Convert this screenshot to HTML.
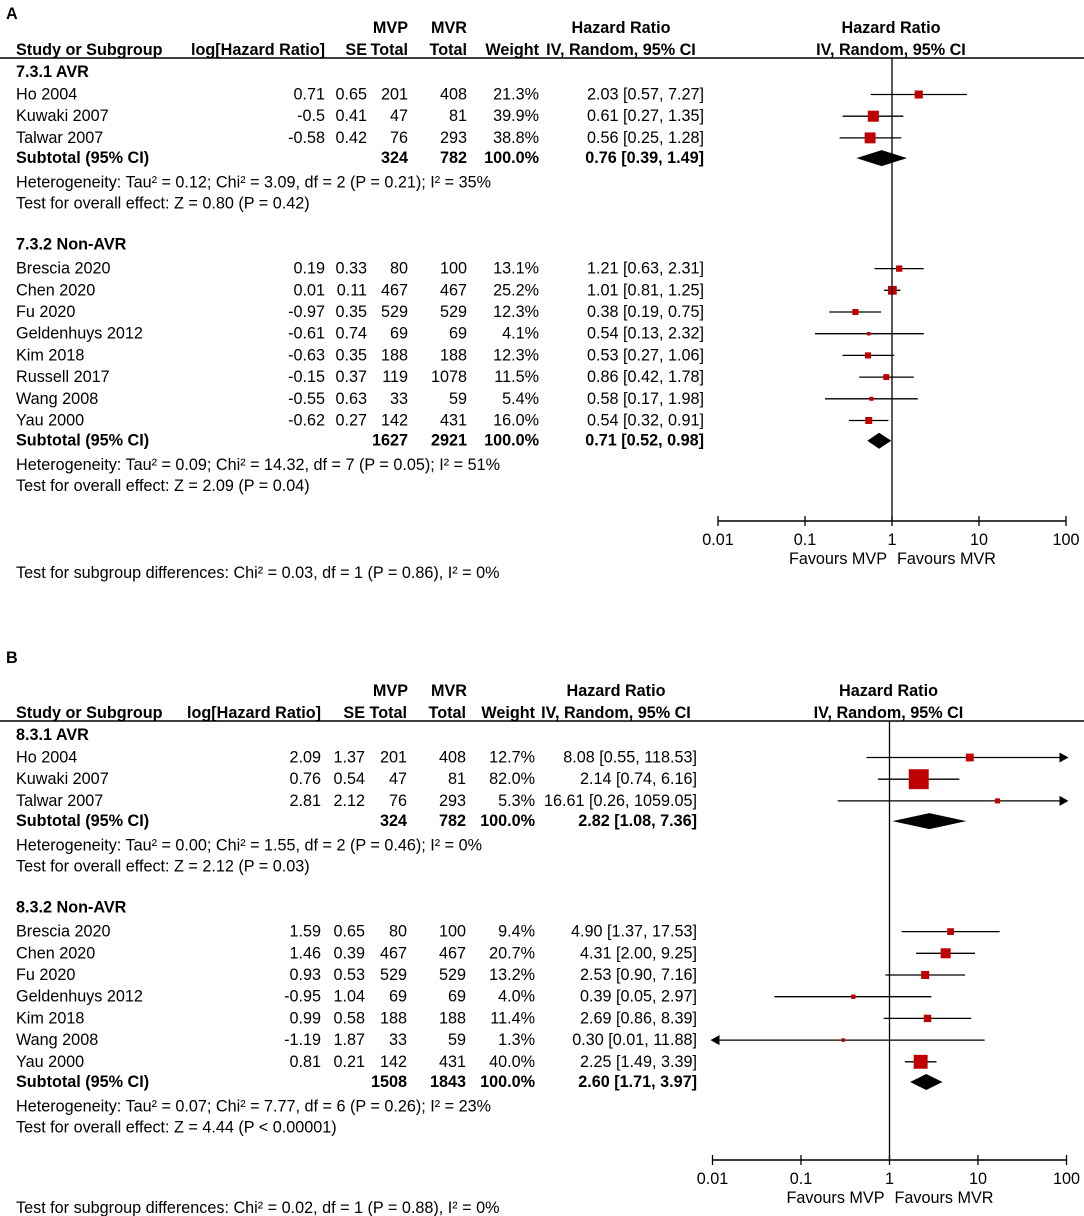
<!DOCTYPE html>
<html><head><meta charset="utf-8"><style>
body{margin:0;background:#fff}
svg{display:block;font-family:"Liberation Sans",Arial,sans-serif;font-size:16.2px}
.b{font-weight:bold}
</style></head><body>
<svg id="c" width="1084" height="1216" viewBox="0 0 1084 1216"></svg>
<script>
// Panel A data
const aStudies1 = ["Ho 2004","Kuwaki 2007","Talwar 2007"];
const aLog1 = ["0.71","-0.5","-0.58"];
const aSE1 = ["0.65","0.41","0.42"];
const aMVP1 = [201,47,76];
const aMVR1 = [408,81,293];
const aW1 = [21.3,39.9,38.8];
const aHR1 = [2.03,0.61,0.56];
const aLo1 = [0.57,0.27,0.25];
const aHi1 = [7.27,1.35,1.28];
const aSub1 = [0.76,0.39,1.49];
const aStudies2 = ["Brescia 2020","Chen 2020","Fu 2020","Geldenhuys 2012","Kim 2018","Russell 2017","Wang 2008","Yau 2000"];
const aLog2 = ["0.19","0.01","-0.97","-0.61","-0.63","-0.15","-0.55","-0.62"];
const aSE2 = ["0.33","0.11","0.35","0.74","0.35","0.37","0.63","0.27"];
const aMVP2 = [80,467,529,69,188,119,33,142];
const aMVR2 = [100,467,529,69,188,1078,59,431];
const aW2 = [13.1,25.2,12.3,4.1,12.3,11.5,5.4,16.0];
const aHR2 = [1.21,1.01,0.38,0.54,0.53,0.86,0.58,0.54];
const aLo2 = [0.63,0.81,0.19,0.13,0.27,0.42,0.17,0.32];
const aHi2 = [2.31,1.25,0.75,2.32,1.06,1.78,1.98,0.91];
const aSub2 = [0.71,0.52,0.98];
// Panel B data
const bStudies1 = ["Ho 2004","Kuwaki 2007","Talwar 2007"];
const bLog1 = ["2.09","0.76","2.81"];
const bSE1 = ["1.37","0.54","2.12"];
const bMVP1 = [201,47,76];
const bMVR1 = [408,81,293];
const bW1 = [12.7,82.0,5.3];
const bHR1 = [8.08,2.14,16.61];
const bLo1 = [0.55,0.74,0.26];
const bHi1 = [118.53,6.16,1059.05];
const bSub1 = [2.82,1.08,7.36];
const bStudies2 = ["Brescia 2020","Chen 2020","Fu 2020","Geldenhuys 2012","Kim 2018","Wang 2008","Yau 2000"];
const bLog2 = ["1.59","1.46","0.93","-0.95","0.99","-1.19","0.81"];
const bSE2 = ["0.65","0.39","0.53","1.04","0.58","1.87","0.21"];
const bMVP2 = [80,467,529,69,188,33,142];
const bMVR2 = [100,467,529,69,188,59,431];
const bW2 = [9.4,20.7,13.2,4.0,11.4,1.3,40.0];
const bHR2 = [4.90,4.31,2.53,0.39,2.69,0.30,2.25];
const bLo2 = [1.37,2.00,0.90,0.05,0.86,0.01,1.49];
const bHi2 = [17.53,9.25,7.16,2.97,8.39,11.88,3.39];
const bSub2 = [2.60,1.71,3.97];
const ticks = ["0.01","0.1","1","10","100"];

const svg=document.getElementById('c');
const NS="http://www.w3.org/2000/svg";
function el(t,a,txt){const e=document.createElementNS(NS,t);for(const k in a)e.setAttribute(k,a[k]);if(txt!==undefined)e.textContent=txt;svg.appendChild(e);return e;}
function T(x,y,s,anchor,bold,name){const e=el('text',{x:x,y:y,'text-anchor':anchor||'start','class':bold?'b':''},s);

return e;}
function f2(v){return v.toFixed(2);}
function ci(h,l,u){return f2(h)+" ["+f2(l)+", "+f2(u)+"]";}

function panel(P){
  const X=v=>P.cx+P.dec*Math.log10(v);
  const xmin=P.cx-2*P.dec, xmax=P.cx+2*P.dec;
  const dy=21.7;
  T(6,P.top,P.letter,'start',true,'panel-letter');
  T(408,P.mvpY,"MVP",'end',true,'mvp-header');
  T(467,P.mvpY,"MVR",'end',true,'mvr-header');
  T(P.cHR,P.mvpY,"Hazard Ratio",'middle',true,'hr-header');
  T(P.cx-1,P.mvpY,"Hazard Ratio",'middle',true,'plot-header');
  const hy=P.hy;
  T(16,hy,"Study or Subgroup",'start',true,'study-header');
  T(P.cLog,hy,"log[Hazard Ratio]",'end',true,'loghr-header');
  T(P.cSE,hy,"SE",'end',true,'se-header');
  T(P.cMVP,hy,"Total",'end',true,'mvp-total-header');
  T(P.cMVR,hy,"Total",'end',true,'mvr-total-header');
  T(P.cW,hy,"Weight",'end',true,'weight-header');
  T(P.cHR,hy,"IV, Random, 95% CI",'middle',true,'ci-header');
  T(P.cx-1,hy,"IV, Random, 95% CI",'middle',true,'plot-ci-header');
  const ly=hy+3;
  let l=el('line',{x1:0,x2:1084,y1:ly,y2:ly,stroke:'#000','stroke-width':1.5});
  
  let y=hy+22;
  P.groups.forEach((g,gi)=>{
    T(16,y,g.title,'start',true,'subgroup-title');
    y+= gi===0 ? 22.5 : 24;
    g.names.forEach((n,i)=>{
      T(16,y,n,'start',false,'study-name');
      T(P.cLog,y,g.log[i],'end',false,'log-hr');
      T(P.cSE,y,g.se[i],'end',false,'se');
      T(P.cMVP,y,g.mvp[i],'end',false,'mvp-total');
      T(P.cMVR,y,g.mvr[i],'end',false,'mvr-total');
      T(P.cW,y,g.w[i].toFixed(1)+"%",'end',false,'weight');
      T(P.cCI,y,ci(g.hr[i],g.lo[i],g.hi[i]),'end',false,'hr-ci');
      const my=y-5;
      const x2=Math.min(X(g.hi[i]),xmax);
      const leftArrow=g.lo[i]<=0.01;
      let ln=el('line',{x1:leftArrow?xmin:X(g.lo[i]),x2:x2,y1:my,y2:my,stroke:'#000','stroke-width':1.3});
      
      if(g.hi[i]>100){let a=el('polygon',{points:`${xmax+2},${my} ${xmax-7},${my-5} ${xmax-7},${my+5}`,fill:'#000'});
        }
      if(leftArrow){let a=el('polygon',{points:`${xmin-2},${my} ${xmin+7},${my-5} ${xmin+7},${my+5}`,fill:'#000'});
        }
      const s=Math.max(3.5,P.k*Math.sqrt(g.w[i]));
      let r=el('rect',{x:X(g.hr[i])-s/2,y:my-s/2,width:s,height:s,fill:'#c00000'});
      
      y+=dy;
    });
    y-=1.5;
    T(16,y,"Subtotal (95% CI)",'start',true,'subtotal-label');
    T(P.cMVP,y,g.sm,'end',true,'subtotal-mvp');
    T(P.cMVR,y,g.sr,'end',true,'subtotal-mvr');
    T(P.cW,y,"100.0%",'end',true,'subtotal-weight');
    T(P.cCI,y,ci(g.sub[0],g.sub[1],g.sub[2]),'end',true,'subtotal-ci');
    const dyc=y-5;
    let d=el('polygon',{points:`${X(g.sub[1])},${dyc} ${X(g.sub[0])},${dyc-8} ${X(g.sub[2])},${dyc} ${X(g.sub[0])},${dyc+8}`,fill:'#000'});
    
    y+=24.5;
    T(16,y,g.het,'start',false,'heterogeneity');
    y+=21;
    T(16,y,g.test,'start',false,'overall-effect');
    y+=41;
  });
  const ay=P.axisY;
  let vl=el('line',{x1:P.cx,x2:P.cx,y1:ly,y2:ay,stroke:'#000','stroke-width':1.3});
  
  let ax=el('line',{x1:xmin,x2:xmax,y1:ay,y2:ay,stroke:'#000','stroke-width':1.5});
  
  ticks.forEach(t=>{const tx=X(parseFloat(t));
    let tk=el('line',{x1:tx,x2:tx,y1:ay-5,y2:ay+5,stroke:'#000','stroke-width':1.3});
    
    T(tx,ay+24,t,'middle',false,'x-tick-label');});
  T(P.cx-5,ay+43,"Favours MVP",'end',false,'favours-mvp');
  T(P.cx+5,ay+43,"Favours MVR",'start',false,'favours-mvr');
  T(16,P.subY,P.subtxt,'start',false,'subgroup-differences');
}
panel({letter:"A",top:19,mvpY:33,hy:55,cx:892,dec:87,k:1.75,axisY:521,subY:578,
  cLog:325,cSE:367,cMVP:408,cMVR:467,cW:539,cCI:704,cHR:621,
  subtxt:"Test for subgroup differences: Chi² = 0.03, df = 1 (P = 0.86), I² = 0%",
  groups:[
   {title:"7.3.1 AVR",names:aStudies1,log:aLog1,se:aSE1,mvp:aMVP1,mvr:aMVR1,w:aW1,hr:aHR1,lo:aLo1,hi:aHi1,sub:aSub1,sm:324,sr:782,
    het:"Heterogeneity: Tau² = 0.12; Chi² = 3.09, df = 2 (P = 0.21); I² = 35%",test:"Test for overall effect: Z = 0.80 (P = 0.42)"},
   {title:"7.3.2 Non-AVR",names:aStudies2,log:aLog2,se:aSE2,mvp:aMVP2,mvr:aMVR2,w:aW2,hr:aHR2,lo:aLo2,hi:aHi2,sub:aSub2,sm:1627,sr:2921,
    het:"Heterogeneity: Tau² = 0.09; Chi² = 14.32, df = 7 (P = 0.05); I² = 51%",test:"Test for overall effect: Z = 2.09 (P = 0.04)"}]});
panel({letter:"B",top:663,mvpY:696,hy:718,cx:889.5,dec:88.5,k:2.2,axisY:1160,subY:1213,
  cLog:321,cSE:365,cMVP:407,cMVR:466,cW:535,cCI:697,cHR:616,
  subtxt:"Test for subgroup differences: Chi² = 0.02, df = 1 (P = 0.88), I² = 0%",
  groups:[
   {title:"8.3.1 AVR",names:bStudies1,log:bLog1,se:bSE1,mvp:bMVP1,mvr:bMVR1,w:bW1,hr:bHR1,lo:bLo1,hi:bHi1,sub:bSub1,sm:324,sr:782,
    het:"Heterogeneity: Tau² = 0.00; Chi² = 1.55, df = 2 (P = 0.46); I² = 0%",test:"Test for overall effect: Z = 2.12 (P = 0.03)"},
   {title:"8.3.2 Non-AVR",names:bStudies2,log:bLog2,se:bSE2,mvp:bMVP2,mvr:bMVR2,w:bW2,hr:bHR2,lo:bLo2,hi:bHi2,sub:bSub2,sm:1508,sr:1843,
    het:"Heterogeneity: Tau² = 0.07; Chi² = 7.77, df = 6 (P = 0.26); I² = 23%",test:"Test for overall effect: Z = 4.44 (P < 0.00001)"}]});
</script>
</body></html>
